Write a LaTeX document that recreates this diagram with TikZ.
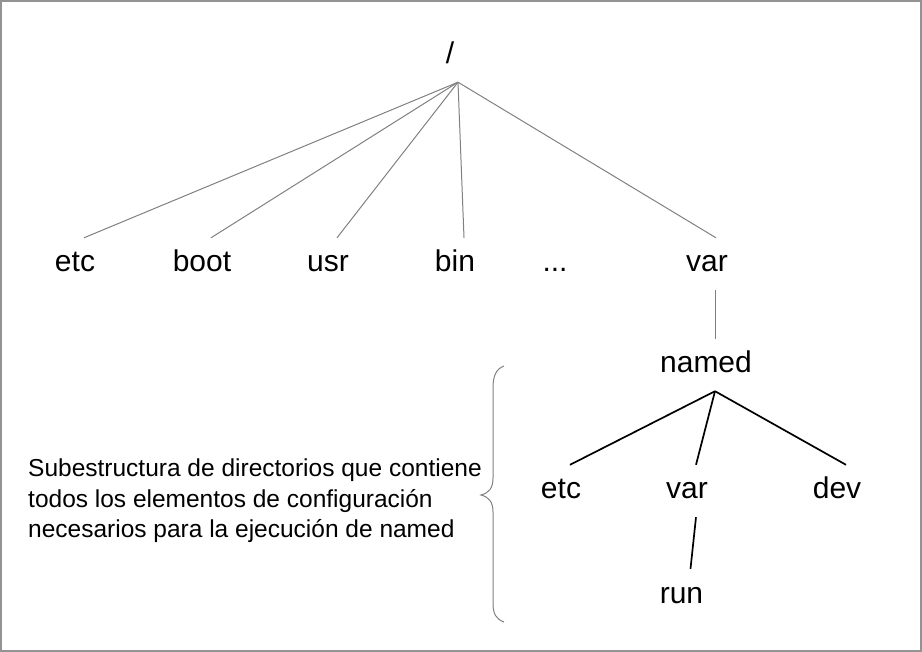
\documentclass[tikz,border=0pt]{standalone}
\usepackage{fontspec}
\setmainfont{Liberation Sans}
\tikzset{
  dir/.style={font=\fontsize{30}{30}\selectfont, inner xsep=0pt, inner ysep=12pt, text height=22pt, text depth=6pt},
  thinlink/.style={draw=gray, line width=1pt},
  thicklink/.style={draw=black, line width=1.7pt},
}
\begin{document}
\begin{tikzpicture}[x=1pt,y=-1pt]
  \useasboundingbox (0,0) rectangle (922,652);
  \draw[gray!85, line width=2pt] (1,1) rectangle (921,651);
  % root and first level
  \node[dir] (root) at (450,56) {/};
  \foreach \x/\n in {75/etc,202/boot,328/usr,455/bin,707/var}{
    \node[dir] (\n) at (\x,264) {\n};
    \draw[thinlink] ([xshift=8pt]root.south) -- ([xshift=9pt]\n.north);
  }
  \node[dir] (dots) at (555,264) {...};
  % named subtree
  \node[dir] (named) at (706,365) {named};
  \draw[thinlink] ([xshift=8pt]var.south) -- ([xshift=9pt]named.north);
  \foreach \x/\n/\t in {561/netc/etc,687/nvar/var,837/ndev/dev}{
    \node[dir] (\n) at (\x,491) {\t};
    \draw[thicklink] ([xshift=9pt]named.south) -- ([xshift=9pt]\n.north);
  }
  \node[dir] (run) at (681.5,595) {run};
  \draw[thicklink] ([xshift=9pt]nvar.south) -- ([xshift=9pt]run.north);
  % brace and note
  \draw[thinlink] (504,366) .. controls (496,369) and (493,376) .. (493,388) -- (493,478)
    .. controls (493,488) and (489,493) .. (481,495) .. controls (489,497) and (493,502) .. (493,512)
    -- (493,603) .. controls (493,614) and (496,619) .. (504,622);
  \node[font=\fontsize{24.5}{30.5}\selectfont, align=left, anchor=west, inner sep=0pt] (note) at (28,501)
    {Subestructura de directorios que contiene\\todos los elementos de configuración\\necesarios para la ejecución de named};
\end{tikzpicture}
\end{document}
